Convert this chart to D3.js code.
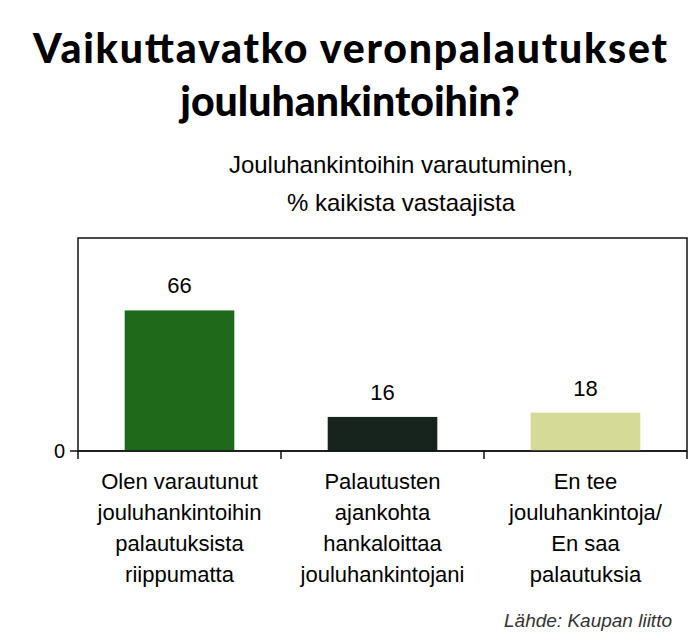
<!DOCTYPE html><html><head><meta charset="utf-8"><script src="https://cdn.jsdelivr.net/npm/d3@7"></script>
<style>body{margin:0;background:#fff}</style></head><body><svg id="c" width="700" height="641"></svg>
<script>
const categories=[["Olen varautunut","jouluhankintoihin","palautuksista","riippumatta"],["Palautusten","ajankohta","hankaloittaa","jouluhankintojani"],["En tee","jouluhankintoja/","En saa","palautuksia"]];
const values=[66,16,18];
const colors=["#1e6a1b","#17241d","#d6da97"];
const yTicks=[0];
const svg=d3.select("#c");
const L=78,R=687,T=238,B=451;
const x=d3.scaleBand().domain([0,1,2]).range([L,R]).paddingInner(0.46).paddingOuter(0.23);
const y=d3.scaleLinear().domain([0,100]).range([B,T]);
svg.append("text").attr("x",350).attr("y",63).attr("text-anchor","middle").attr("font-family","Lato, sans-serif").attr("font-weight","900").attr("font-size",41).attr("textLength",634).text("Vaikuttavatko veronpalautukset");
svg.append("text").attr("x",350).attr("y",116).attr("text-anchor","middle").attr("font-family","Lato, sans-serif").attr("font-weight","900").attr("font-size",41).text("jouluhankintoihin?");
[["Jouluhankintoihin varautuminen,",173],["% kaikista vastaajista",211]].forEach(([t,yy])=>svg.append("text").attr("x",401).attr("y",yy).attr("text-anchor","middle").attr("font-family","Liberation Sans, Arial").attr("font-size",24).text(t));
svg.append("rect").attr("x",L).attr("y",T).attr("width",R-L).attr("height",B-T).attr("fill","none").attr("stroke","#111").attr("stroke-width",1.5);
svg.selectAll(".b").data(values).join("rect").attr("x",(d,i)=>x(i)).attr("y",d=>y(d)).attr("width",x.bandwidth()).attr("height",d=>B-y(d)).attr("fill",(d,i)=>colors[i]);
svg.selectAll(".v").data(values).join("text").attr("x",(d,i)=>x(i)+x.bandwidth()/2).attr("y",d=>y(d)-17).attr("text-anchor","middle").attr("font-family","Liberation Sans, Arial").attr("font-size",22).text(d=>d);
const ax=svg.append("g").attr("transform",`translate(0,${B})`);
ax.append("line").attr("x1",L-8).attr("x2",R).attr("stroke","#111").attr("stroke-width",1.5);
const step=(R-L)/3;
[0,1,2,3].forEach(i=>ax.append("line").attr("x1",L+i*step).attr("x2",L+i*step).attr("y2",8).attr("stroke","#111").attr("stroke-width",1.5));
yTicks.forEach(t=>svg.append("text").attr("x",L-13).attr("y",y(t)+7).attr("text-anchor","end").attr("font-family","Liberation Sans, Arial").attr("font-size",20).text(t));
categories.forEach((lines,i)=>lines.forEach((ln,j)=>svg.append("text").attr("x",x(i)+x.bandwidth()/2).attr("y",489+j*31).attr("text-anchor","middle").attr("font-family","Liberation Sans, Arial").attr("font-size",22).text(ln)));
svg.append("text").attr("x",672).attr("y",627).attr("text-anchor","end").attr("font-family","Liberation Sans, Arial").attr("font-style","italic").attr("font-size",19).attr("fill","#333").text("Lähde: Kaupan liitto");
</script></body></html>
